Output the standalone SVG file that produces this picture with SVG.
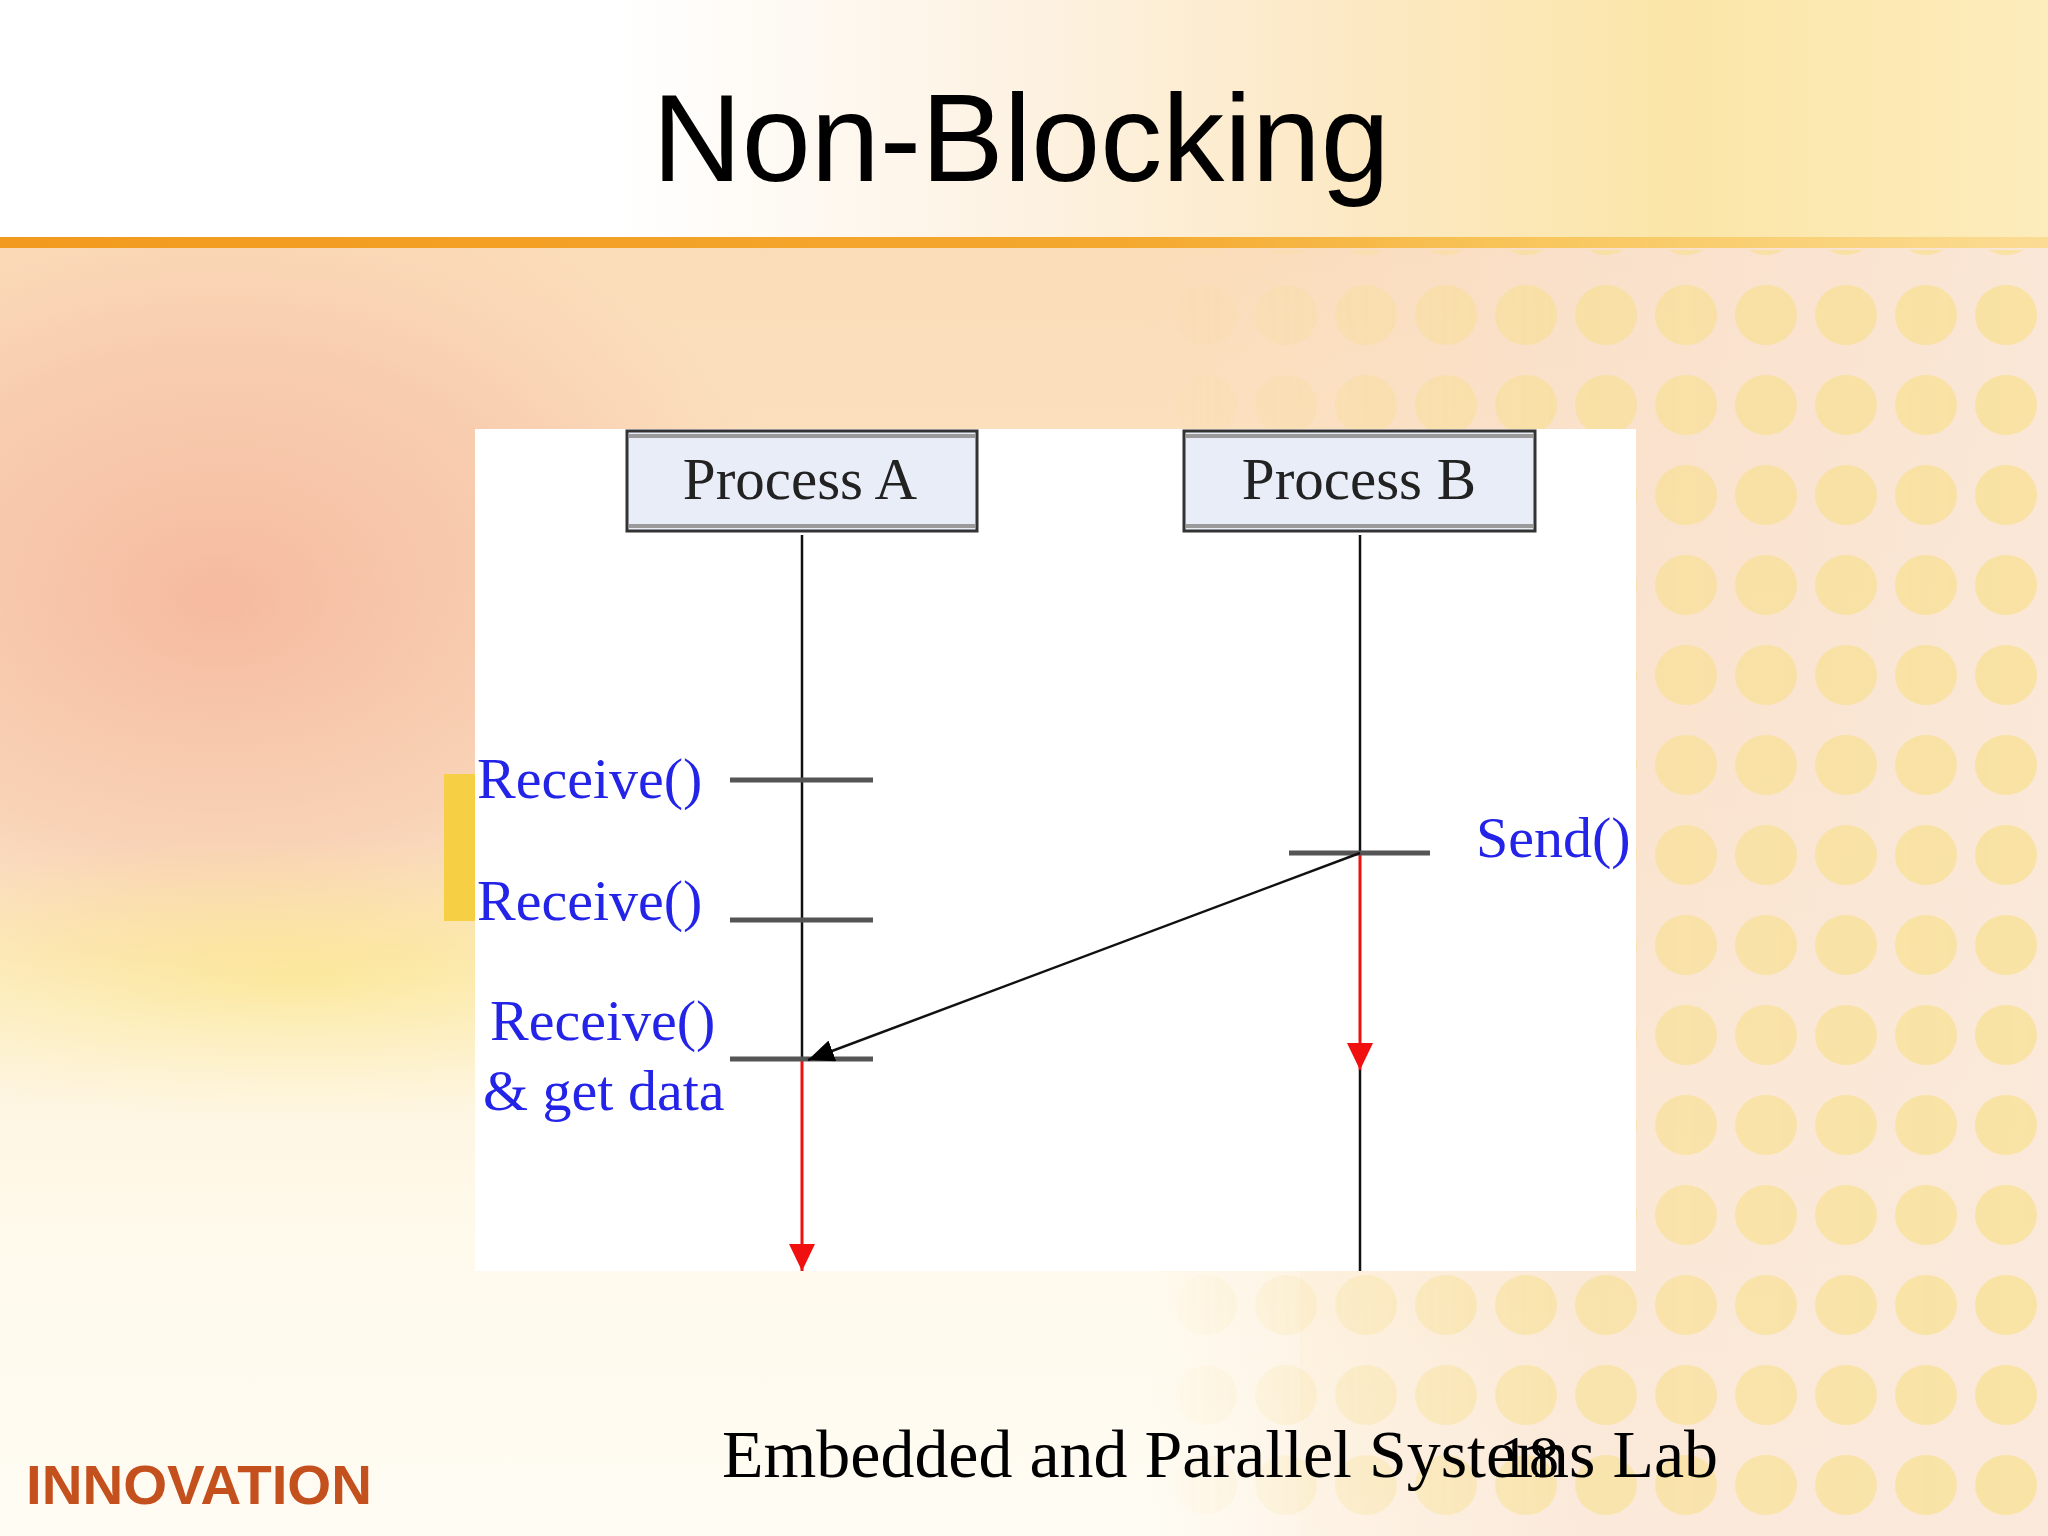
<svg xmlns="http://www.w3.org/2000/svg" width="2048" height="1536" viewBox="0 0 2048 1536">
<style>
.lbl{font-family:"Liberation Serif","Times New Roman",serif;font-size:58px;fill:#2424e8}
.ptxt{font-family:"Liberation Serif","Times New Roman",serif;font-size:59px;fill:#222;text-anchor:middle}
.pbox{fill:#e9edf8;stroke:#333;stroke-width:3}
.pband{stroke:#9a9a9a;stroke-width:4}
.life{stroke:#111;stroke-width:2.5;fill:none}
.red{stroke:#f01010;stroke-width:3;fill:none}
.tick{stroke:#555;stroke-width:5}
.msg{stroke:#111;stroke-width:2.5;fill:none}
</style>
<defs>
<linearGradient id="hdr" x1="0" y1="0" x2="1" y2="0">
<stop offset="0" stop-color="#ffffff"/>
<stop offset="0.3" stop-color="#ffffff"/>
<stop offset="0.5" stop-color="#fdf2e2"/>
<stop offset="0.65" stop-color="#fce9c6"/>
<stop offset="0.82" stop-color="#fbe6a8"/>
<stop offset="1" stop-color="#fdecbc"/>
</linearGradient>
<linearGradient id="oline" x1="0" y1="0" x2="1" y2="0">
<stop offset="0" stop-color="#f29a1e"/>
<stop offset="0.55" stop-color="#f4a82e"/>
<stop offset="0.75" stop-color="#f8c65c"/>
<stop offset="1" stop-color="#fbdc94"/>
</linearGradient>
<linearGradient id="body" x1="0" y1="0" x2="0" y2="1">
<stop offset="0" stop-color="#fbdcb8"/>
<stop offset="0.45" stop-color="#fce8c8"/>
<stop offset="0.7" stop-color="#fef4dc"/>
<stop offset="1" stop-color="#fffaee"/>
</linearGradient>
<radialGradient id="pink" cx="0.5" cy="0.5" r="0.5">
<stop offset="0" stop-color="#f3a890" stop-opacity="0.7"/>
<stop offset="0.6" stop-color="#f5b8a0" stop-opacity="0.45"/>
<stop offset="1" stop-color="#f6c0a8" stop-opacity="0"/>
</radialGradient>
<radialGradient id="yel" cx="0.5" cy="0.5" r="0.5">
<stop offset="0" stop-color="#fbe680" stop-opacity="0.7"/>
<stop offset="1" stop-color="#fbe680" stop-opacity="0"/>
</radialGradient>
<linearGradient id="rside" x1="0" y1="0" x2="1" y2="0">
<stop offset="0" stop-color="#f9e0cc" stop-opacity="0"/>
<stop offset="0.5" stop-color="#f9e2d2" stop-opacity="0.7"/>
<stop offset="1" stop-color="#fae8da" stop-opacity="0.9"/>
</linearGradient>
<linearGradient id="bfade" x1="0" y1="0" x2="0" y2="1">
<stop offset="0" stop-color="#fffbf0" stop-opacity="0"/>
<stop offset="0.5" stop-color="#fffbf0" stop-opacity="0.7"/>
<stop offset="1" stop-color="#fffcf4" stop-opacity="0.9"/>
</linearGradient>
<linearGradient id="fadeR" x1="0" y1="0" x2="1" y2="0">
<stop offset="0" stop-color="#fff" stop-opacity="0"/>
<stop offset="0.45" stop-color="#fff" stop-opacity="0.6"/>
<stop offset="1" stop-color="#fff" stop-opacity="0.75"/>
</linearGradient>
<mask id="dmask" maskUnits="userSpaceOnUse" x="1150" y="250" width="898" height="1286">
<rect x="1150" y="250" width="898" height="1286" fill="url(#fadeR)"/>
</mask>
<pattern id="dots" width="80" height="90" patternUnits="userSpaceOnUse" x="1646" y="270">
<ellipse cx="40" cy="45" rx="31" ry="30" fill="#f8de80" fill-opacity="0.8"/>
</pattern>
<marker id="blk" viewBox="0 0 26 22" refX="26" refY="11" markerWidth="26" markerHeight="22" markerUnits="userSpaceOnUse" orient="auto">
<path d="M0,0 L26,11 L0,22 z" fill="#000"/>
</marker>
<marker id="redh" viewBox="0 0 27 26" refX="27" refY="13" markerWidth="27" markerHeight="26" markerUnits="userSpaceOnUse" orient="auto">
<path d="M0,0 L27,13 L0,26 z" fill="#f01010"/>
</marker>
</defs>

<g id="background">
<rect x="0" y="0" width="2048" height="1536" fill="#fffaf0"/>
<rect x="0" y="248" width="2048" height="1288" fill="url(#body)"/>
<ellipse cx="220" cy="600" rx="600" ry="420" fill="url(#pink)"/>
<ellipse cx="300" cy="980" rx="540" ry="140" fill="url(#yel)"/>
<rect x="0" y="950" width="1300" height="586" fill="url(#bfade)"/>
<rect x="1150" y="248" width="898" height="1288" fill="url(#rside)"/>
<rect x="1150" y="250" width="898" height="1286" fill="url(#dots)" mask="url(#dmask)"/>
<rect x="0" y="0" width="2048" height="240" fill="url(#hdr)"/>
<rect x="0" y="237" width="2048" height="11" fill="url(#oline)"/>
<rect x="444" y="774" width="32" height="147" fill="#f7cf45"/>
</g>

<text x="1021" y="181" font-family="Liberation Sans, Arial, sans-serif" font-size="124" text-anchor="middle" fill="#000">Non-Blocking</text>

<rect x="475" y="429" width="1161" height="842" fill="#ffffff"/>

<g id="processA">
<rect class="pbox" x="627" y="431" width="350" height="100"/>
<line class="pband" x1="629" y1="436" x2="975" y2="436"/>
<line class="pband" x1="629" y1="526" x2="975" y2="526"/>
<text class="ptxt" x="800" y="499">Process A</text>
</g>

<g id="processB">
<rect class="pbox" x="1184" y="431" width="351" height="100"/>
<line class="pband" x1="1186" y1="436" x2="1533" y2="436"/>
<line class="pband" x1="1186" y1="526" x2="1533" y2="526"/>
<text class="ptxt" x="1359" y="499">Process B</text>
</g>

<g id="connectors">
<line class="life" x1="802" y1="535" x2="802" y2="1059"/>
<line class="red" x1="802" y1="1059" x2="802" y2="1271" marker-end="url(#redh)"/>
<line class="life" x1="1360" y1="535" x2="1360" y2="853"/>
<line class="red" x1="1360" y1="853" x2="1360" y2="1070" marker-end="url(#redh)"/>
<line class="life" x1="1360" y1="1070" x2="1360" y2="1271"/>
<line class="tick" x1="730" y1="780" x2="873" y2="780"/>
<line class="tick" x1="730" y1="920" x2="873" y2="920" stroke="#777"/>
<line class="tick" x1="730" y1="1059" x2="873" y2="1059"/>
<line class="tick" x1="1289" y1="853" x2="1430" y2="853"/>
<line class="msg" x1="1360" y1="853" x2="808" y2="1060" marker-end="url(#blk)"/>
</g>

<g id="labels">
<text class="lbl" x="477" y="798">Receive()</text>
<text class="lbl" x="477" y="920">Receive()</text>
<text class="lbl" x="490" y="1040">Receive()</text>
<text class="lbl" x="483" y="1110">&amp; get data</text>
<text class="lbl" x="1476" y="857">Send()</text>
</g>

<g id="footer">
<text x="26" y="1504" font-family="Liberation Sans, Arial, sans-serif" font-weight="bold" font-size="56" fill="#c4501e" textLength="346" lengthAdjust="spacingAndGlyphs">INNOVATION</text>
<text x="722" y="1477" font-family="Liberation Serif, Times New Roman, serif" font-size="68" fill="#000" textLength="996" lengthAdjust="spacingAndGlyphs">Embedded and Parallel Systems Lab</text>
<text x="1499" y="1477" font-family="Liberation Serif, Times New Roman, serif" font-size="60" fill="#000">18</text>
</g>
</svg>
